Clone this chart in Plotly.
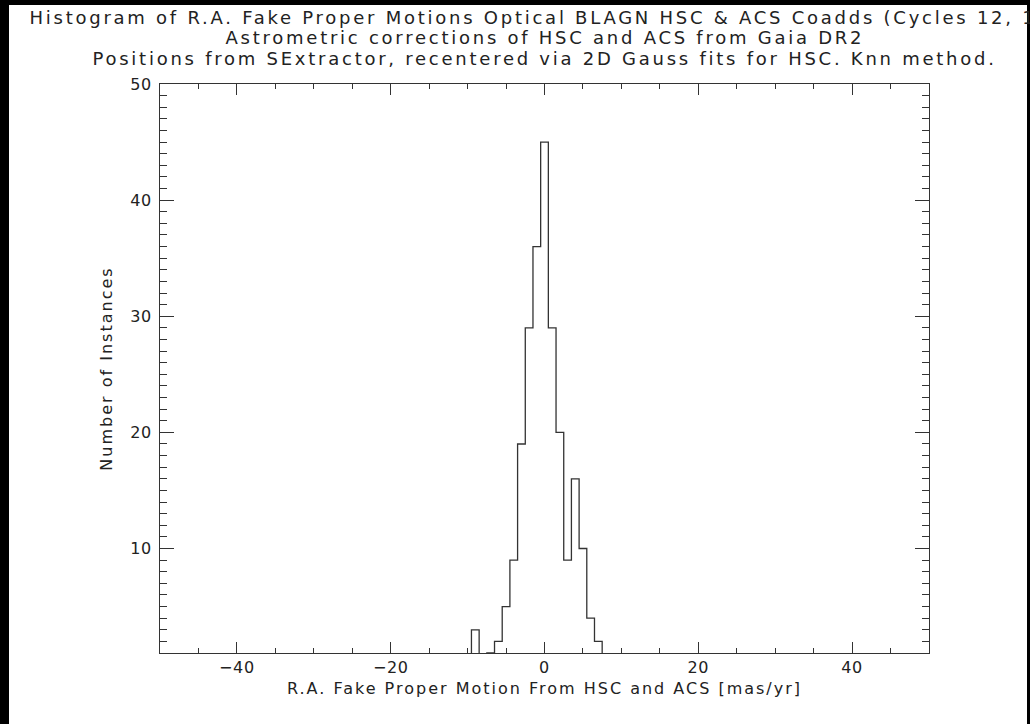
import plotly.graph_objects as go

# ---- data ----
bin_centers = [-10, -9, -8, -7, -6, -5, -4, -3, -2, -1, 0, 1, 2, 3, 4, 5, 6, 7, 8]
counts      = [  0,  3,  0,  1,  2,  5,  9, 19, 29, 36, 45, 29, 20, 9, 16, 10, 4, 2, 0]

title_lines = [
    "Histogram of R.A. Fake Proper Motions Optical BLAGN HSC & ACS Coadds (Cycles 12, 13)",
    "Astrometric corrections of HSC and ACS from Gaia DR2",
    "Positions from SExtractor, recentered via 2D Gauss fits for HSC. Knn method.",
]
x_title = "R.A. Fake Proper Motion From HSC and ACS [mas/yr]"
y_title = "Number of Instances"
x_range = [-50, 50]
y_range = [1, 50]

# ---- layout geometry (pixels) ----
W, H = 1030, 724
L, R, T, B = 160, 1030 - 929, 84, 724 - 653
PW, PH = W - L - R, H - T - B

def px_x(px):
    return (px - L) / PW

def px_y(py):
    return (H - B - py) / PH

FONT = "DejaVu Sans"
INK = "#222222"
AX = "#333333"

fig = go.Figure()
fig.add_trace(go.Scatter(
    x=bin_centers, y=counts, mode="lines",
    line=dict(shape="hvh", color=AX, width=1.3),
    showlegend=False, hoverinfo="skip",
))

axis_common = dict(
    showline=True, linecolor=AX, linewidth=1.2, mirror="ticks",
    ticks="inside", tickcolor=AX, tickwidth=1,
    showgrid=False, zeroline=False,
    tickfont=dict(family=FONT, size=16, color=INK),
)

fig.update_xaxes(
    range=x_range, tickmode="linear", tick0=0, dtick=20, ticklen=11,
    minor=dict(tickmode="linear", tick0=0, dtick=5, ticks="inside", ticklen=5,
               tickcolor=AX, tickwidth=1, showgrid=False),
    title=dict(text=x_title, font=dict(family=FONT, size=16, color=INK), standoff=6),
    **axis_common,
)
fig.update_yaxes(
    range=y_range, tickmode="array", tickvals=[10, 20, 30, 40, 50], ticklen=14,
    ticklabelstandoff=4,
    minor=dict(tickmode="linear", tick0=0, dtick=1, ticks="inside", ticklen=7,
               tickcolor=AX, tickwidth=1, showgrid=False),
    title=dict(text=y_title, font=dict(family=FONT, size=16, color=INK), standoff=14),
    **axis_common,
)

# white page area on a black canvas
fig.add_shape(type="rect", xref="paper", yref="paper", layer="below",
              x0=px_x(9), x1=px_x(1027), y0=px_y(724), y1=px_y(5),
              fillcolor="white", line=dict(width=0))

centers_y = [17.0, 38.0, 58.5]
for txt, cy in zip(title_lines, centers_y):
    fig.add_annotation(
        text=txt, xref="paper", yref="paper", x=px_x(544.5), y=px_y(cy),
        xanchor="center", yanchor="middle", showarrow=False,
        font=dict(family=FONT, size=18, color=INK),
    )

fig.update_layout(
    width=W, height=H,
    margin=dict(l=L, r=R, t=T, b=B, pad=0),
    paper_bgcolor="black", plot_bgcolor="white",
    showlegend=False,
)

js = """
var gd = document.getElementById('{plot_id}');
function spaceText(){
  gd.querySelectorAll('.annotation-text').forEach(function(t){
    t.style.letterSpacing = '2.75px';
  });
  gd.querySelectorAll('.xtitle, .ytitle').forEach(function(t){
    t.style.letterSpacing = '2.0px';
  });
  gd.querySelectorAll('.xtick text, .ytick text').forEach(function(t){
    t.style.letterSpacing = '0.6px';
  });
}
spaceText();
gd.on && gd.on('plotly_afterplot', spaceText);
"""

fig.write_html("out.html", post_script=js)
